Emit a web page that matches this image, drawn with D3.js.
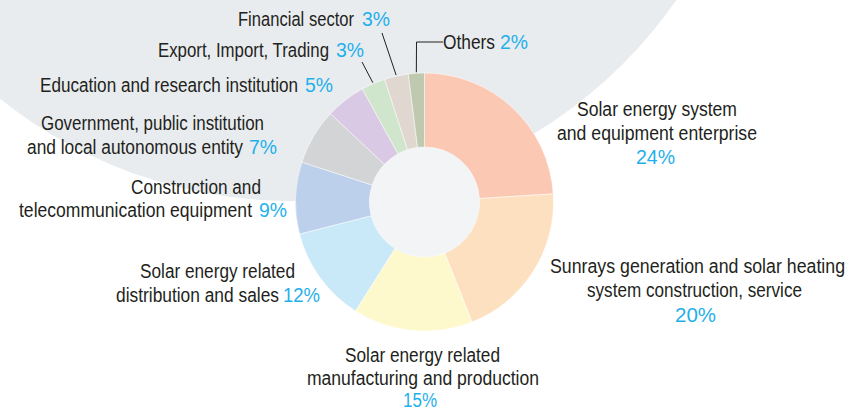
<!DOCTYPE html>
<html>
<head>
<meta charset="utf-8">
<script src="https://cdn.jsdelivr.net/npm/d3@7"></script>
<style>
  html, body { margin: 0; padding: 0; background: #fff; }
  svg { display: block; }
  text { font-family: "Liberation Sans", Arial, sans-serif; }
</style>
</head>
<body>
<svg id="chart" width="849" height="411"></svg>
<script>
// sectors, in drawing order (clockwise from 12 o'clock)
const sectors = [
  "Solar energy system and equipment enterprise",
  "Sunrays generation and solar heating system construction, service",
  "Solar energy related manufacturing and production",
  "Solar energy related distribution and sales",
  "Construction and telecommunication equipment",
  "Government, public institution and local autonomous entity",
  "Education and research institution",
  "Export, Import, Trading",
  "Financial sector",
  "Others"
];
const shares = [24, 20, 15, 12, 9, 7, 5, 3, 3, 2];
const sliceColors = ["#fbc9b3", "#fde0bf", "#fef9cc", "#c9e9f8", "#bcd0eb",
                     "#d3d4d6", "#dac9e4", "#cfe6cc", "#e0d8d0", "#bec9b0"];

// how each label is broken and where it sits (x0, x1, baseline)
const labelLayout = [
  { lines: [["Solar energy system", 577, 737, 116], ["and equipment enterprise", 557, 757, 140]], pct: [636, 675, 164] },
  { lines: [["Sunrays generation and solar heating", 550, 845, 273], ["system construction, service", 587, 802, 297]], pct: [675, 716, 322] },
  { lines: [["Solar energy related", 345, 500, 362], ["manufacturing and production", 307, 539, 385]], pct: [403, 437, 407] },
  { lines: [["Solar energy related", 140, 295, 278], ["distribution and sales", 116, 279, 302]], pct: [283, 320, 302] },
  { lines: [["Construction and", 131, 261, 194], ["telecommunication equipment", 19, 252, 217]], pct: [259, 287, 217] },
  { lines: [["Government, public institution", 41, 264, 130], ["and local autonomous entity", 27, 243, 154]], pct: [249, 277, 154] },
  { lines: [["Education and research institution", 40, 298, 92]], pct: [305, 333, 92] },
  { lines: [["Export, Import, Trading", 158, 329, 57]], pct: [336, 364, 57] },
  { lines: [["Financial sector", 238, 354, 26]], pct: [362, 390, 26] },
  { lines: [["Others", 443, 495, 49]], pct: [500, 528, 49] }
];

// leader lines for the small slices: index -> points after the slice edge
const leaders = [
  { i: 7, to: [[362, 62]] },
  { i: 8, to: [[382, 33]] },
  { i: 9, to: [[416.5, 42], [443, 42]] }
];

const cx = 424.5, cy = 202;
const outerR = 129, innerR = 55;

const svg = d3.select("#chart");

// big pale circle behind the upper left
svg.append("circle")
  .attr("cx", 292)
  .attr("cy", -267)
  .attr("r", 468)
  .attr("fill", "#e9ecef");

const data = sectors.map((name, i) => ({ name: name, value: shares[i], i: i }));

const pie = d3.pie()
  .value(d => d.value)
  .sort(null);

const arc = d3.arc()
  .innerRadius(innerR)
  .outerRadius(outerR);

const edgeArc = d3.arc()
  .innerRadius(outerR + 1)
  .outerRadius(outerR + 1);

const arcs = pie(data);

const g = svg.append("g")
  .attr("transform", `translate(${cx},${cy})`);

g.selectAll("path")
  .data(arcs)
  .join("path")
  .attr("d", arc)
  .attr("fill", d => sliceColors[d.data.i])
  .attr("stroke", "#ffffff")
  .attr("stroke-width", 0.5);

g.append("circle")
  .attr("r", innerR)
  .attr("fill", "#f2f4f6");

// leader lines
leaders.forEach(l => {
  const start = edgeArc.centroid(arcs[l.i]);
  const pts = [[cx + start[0], cy + start[1]]].concat(l.to);
  svg.append("path")
    .attr("d", d3.line()(pts))
    .attr("fill", "none")
    .attr("stroke", "#231f20")
    .attr("stroke-width", 1);
});

// labels
labelLayout.forEach((lab, i) => {
  lab.lines.forEach(line => {
    svg.append("text")
      .attr("x", line[1])
      .attr("y", line[3])
      .attr("font-size", "19.5px")
      .attr("fill", "#231f20")
      .attr("textLength", line[2] - line[1])
      .attr("lengthAdjust", "spacingAndGlyphs")
      .text(line[0]);
  });
  svg.append("text")
    .attr("x", lab.pct[0])
    .attr("y", lab.pct[2])
    .attr("font-size", "20px")
    .attr("fill", "#1fb0ea")
    .attr("textLength", lab.pct[1] - lab.pct[0])
    .attr("lengthAdjust", "spacingAndGlyphs")
    .text(shares[i] + "%");
});
</script>
</body>
</html>
